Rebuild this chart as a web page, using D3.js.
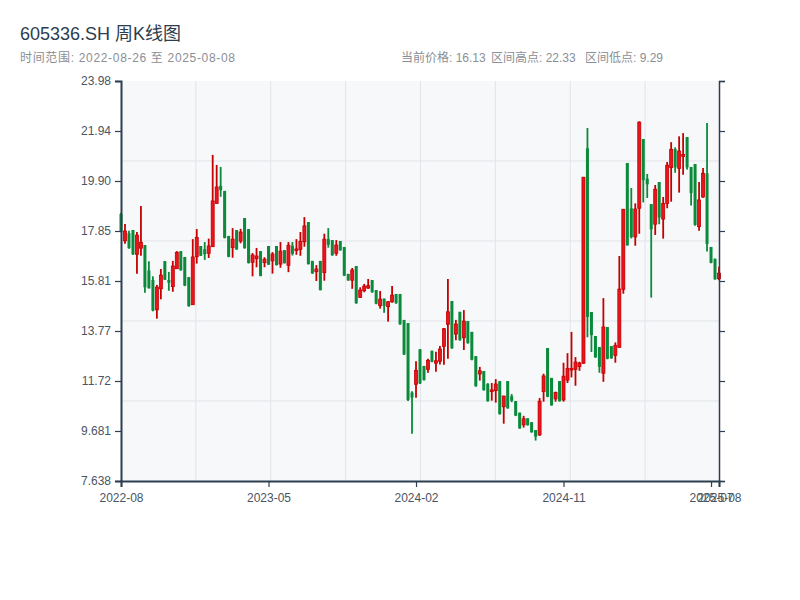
<!DOCTYPE html>
<html><head><meta charset="utf-8">
<script src="https://cdn.jsdelivr.net/npm/d3@7"></script>
<style>
body{margin:0;background:#fff;}
text{font-family:"Liberation Sans","Noto Sans CJK SC",sans-serif;}
</style>
</head><body>
<svg id="chart" width="800" height="600"></svg>
<script>
const dates = [
"2022-08-26","2022-09-02","2022-09-09","2022-09-16","2022-09-23","2022-09-30","2022-10-14","2022-10-21","2022-10-28",
"2022-11-04","2022-11-11","2022-11-18","2022-11-25","2022-12-02","2022-12-09","2022-12-16","2022-12-23","2022-12-30",
"2023-01-06","2023-01-13","2023-01-20","2023-02-03","2023-02-10","2023-02-17","2023-02-24",
"2023-03-03","2023-03-10","2023-03-17","2023-03-24","2023-03-31","2023-04-07","2023-04-14","2023-04-21","2023-04-28",
"2023-05-05","2023-05-12","2023-05-19","2023-05-26","2023-06-02","2023-06-09","2023-06-16","2023-06-23","2023-06-30",
"2023-07-07","2023-07-14","2023-07-21","2023-07-28","2023-08-04","2023-08-11","2023-08-18","2023-08-25",
"2023-09-01","2023-09-08","2023-09-15","2023-09-22","2023-09-29","2023-10-13","2023-10-20","2023-10-27",
"2023-11-03","2023-11-10","2023-11-17","2023-11-24","2023-12-01","2023-12-08","2023-12-15","2023-12-22","2023-12-29",
"2024-01-05","2024-01-12","2024-01-19","2024-01-26","2024-02-02","2024-02-09","2024-02-23",
"2024-03-01","2024-03-08","2024-03-15","2024-03-22","2024-03-29","2024-04-05","2024-04-12","2024-04-19","2024-04-26",
"2024-05-03","2024-05-10","2024-05-17","2024-05-24","2024-05-31","2024-06-07","2024-06-14","2024-06-21","2024-06-28",
"2024-07-05","2024-07-12","2024-07-19","2024-07-26","2024-08-02","2024-08-09","2024-08-16","2024-08-23","2024-08-30",
"2024-09-06","2024-09-13","2024-09-20","2024-09-27","2024-10-04","2024-10-11","2024-10-18","2024-10-25",
"2024-11-01","2024-11-08","2024-11-15","2024-11-22","2024-11-29","2024-12-06","2024-12-13","2024-12-20","2024-12-27",
"2025-01-03","2025-01-10","2025-01-17","2025-01-24","2025-01-31","2025-02-07","2025-02-14","2025-02-21","2025-02-28",
"2025-03-07","2025-03-14","2025-03-21","2025-03-28","2025-04-04","2025-04-11","2025-04-18","2025-04-25",
"2025-05-02","2025-05-09","2025-05-16","2025-05-23","2025-05-30","2025-06-06","2025-06-13","2025-06-20","2025-06-27",
"2025-07-04","2025-07-11","2025-07-18","2025-07-25","2025-08-01","2025-08-08"
];
const openP = [
18.55,17.45,17.76,17.89,16.90,17.15,17.28,16.24,15.85,14.63,15.49,16.62,15.85,15.58,16.31,17.03,16.79,15.97,14.84,16.80,
17.24,17.11,16.94,17.21,18.98,19.70,19.49,17.65,17.17,17.89,17.44,18.38,17.93,16.57,16.72,17.03,16.56,17.24,16.63,17.24,
16.50,17.07,16.45,17.25,17.05,17.10,17.41,18.22,16.63,16.19,16.63,16.15,17.52,17.48,16.94,17.44,17.20,16.10,15.84,16.42,
15.14,15.41,15.52,15.85,15.44,14.80,15.09,14.76,14.96,15.28,15.28,14.22,14.09,11.25,11.59,13.02,12.34,12.20,12.96,12.45,
12.53,13.14,14.04,14.99,13.64,14.55,13.49,14.17,13.73,12.74,12.01,12.13,11.60,11.29,11.33,11.72,10.67,11.72,11.10,10.90,
10.43,9.93,10.20,10.04,9.72,9.52,11.29,13.07,11.85,10.99,11.72,10.95,11.76,12.17,12.20,12.31,12.45,21.23,14.54,13.56,
13.11,12.04,13.93,13.15,12.77,13.10,15.47,20.63,18.78,17.61,18.78,21.61,19.99,18.95,18.13,19.85,18.34,18.98,20.44,21.20,
20.41,20.90,21.69,20.47,20.59,18.03,19.24,20.21,17.20,16.72,15.90
];
const highP = [
18.60,18.14,17.86,17.89,17.81,18.87,17.28,16.62,16.00,15.65,16.30,16.62,16.18,16.63,17.03,17.03,16.79,15.97,17.52,17.93,
17.24,17.40,17.54,20.96,20.55,20.47,19.49,17.65,17.97,17.89,17.94,18.38,17.93,16.95,17.16,17.03,16.78,17.24,16.99,17.24,
17.40,17.07,17.40,17.40,17.52,17.81,18.42,18.22,16.63,16.46,16.63,17.74,17.97,17.48,17.48,17.44,17.20,16.10,16.34,16.42,
15.55,15.69,15.89,15.85,15.44,15.40,15.09,14.99,15.60,15.28,15.28,14.22,14.09,11.30,12.53,13.03,12.34,12.63,12.96,12.92,
13.15,13.89,15.89,14.99,14.22,14.55,14.62,14.17,13.73,12.74,12.30,12.13,11.64,11.64,11.80,11.72,11.12,11.72,11.19,10.90,
10.43,10.30,10.20,10.04,9.72,11.03,12.02,13.07,11.85,11.29,11.72,12.47,12.86,13.73,12.70,12.51,20.06,22.06,14.54,13.56,
13.11,15.11,13.93,13.15,13.30,16.83,18.75,20.63,19.61,18.98,22.33,21.61,20.18,18.95,19.73,19.85,19.24,20.67,21.48,21.27,
21.72,21.85,21.69,20.47,20.59,19.85,20.43,22.26,17.20,16.72,16.39
];
const lowP = [
17.80,17.33,17.13,16.87,16.11,16.84,15.33,15.50,14.57,14.27,15.06,15.85,15.41,15.37,16.31,16.23,15.60,14.76,14.84,16.52,
16.83,16.67,16.75,17.20,18.98,19.25,17.55,16.78,16.76,17.08,17.35,17.13,16.52,16.00,16.37,16.00,16.37,16.46,16.11,16.44,
16.35,16.52,16.17,16.85,16.88,16.84,17.21,16.48,16.10,15.81,15.42,15.82,17.17,16.84,16.84,17.05,16.01,15.82,15.49,14.88,
15.12,15.35,15.49,15.33,14.86,14.68,14.51,14.15,14.92,14.88,14.02,12.79,10.91,9.57,11.04,11.60,11.74,12.06,12.49,12.10,
12.40,12.39,12.63,13.04,13.39,13.37,12.99,13.25,12.57,11.49,11.74,11.33,10.88,10.92,10.84,10.35,9.98,10.59,10.86,10.29,
9.77,9.82,9.90,9.61,9.29,9.48,10.88,11.06,10.71,10.88,10.88,10.88,11.64,11.87,11.53,12.14,12.42,13.51,12.91,12.67,
12.06,11.69,12.61,12.63,12.47,13.08,15.29,17.25,17.55,17.25,17.74,19.02,19.20,15.13,17.69,18.13,17.54,18.78,19.05,20.23,
19.42,20.15,20.36,18.89,18.07,17.86,19.21,17.01,16.53,15.86,15.84
];
const closeP = [
17.81,17.85,17.15,16.90,17.68,17.39,15.55,15.51,14.60,15.56,16.05,15.86,15.74,16.42,16.98,16.25,15.62,14.78,16.79,17.59,
16.84,16.90,17.24,19.08,19.65,19.52,17.57,16.80,17.52,17.10,17.81,17.15,16.55,16.87,16.83,16.02,16.70,16.48,16.91,16.46,
17.03,16.54,17.27,16.92,17.12,17.43,18.06,16.50,16.12,16.30,15.44,17.52,17.29,16.86,17.28,17.06,16.03,15.83,16.26,14.90,
15.44,15.60,15.62,15.35,14.88,15.07,14.79,14.96,15.23,14.90,14.04,12.81,10.95,11.05,12.16,11.62,11.76,12.57,12.51,12.55,
13.03,13.86,14.55,13.06,14.05,13.39,14.17,13.27,12.59,11.51,12.14,11.35,10.90,11.36,11.60,10.37,11.11,10.61,10.92,10.31,
9.79,10.18,9.92,9.63,9.45,10.90,11.93,11.08,10.73,11.25,10.90,11.92,12.24,12.24,12.50,12.46,20.05,14.34,13.60,12.69,
12.30,13.93,12.63,12.65,13.18,15.48,18.74,17.27,17.60,18.75,22.30,19.93,19.76,17.92,19.56,18.40,18.98,20.54,21.19,20.45,
21.12,20.98,20.45,19.40,18.10,19.12,20.21,17.32,16.55,15.88,16.13
];
const yTickLabels = ["7.638","9.681","11.72","13.77","15.81","17.85","19.90","21.94","23.98"];
const yDomain = [7.638, 23.98];
const titleText = "605336.SH 周K线图";
const rangeText = "时间范围: 2022-08-26 至 2025-08-08";
const statTexts = ["当前价格: 16.13", "区间高点: 22.33", "区间低点: 9.29"];

const svg = d3.select("#chart");
const W = 800, H = 600;
const m = {left:121, right:80, top:81, bottom:119};
const pw = W - m.left - m.right, ph = H - m.top - m.bottom;
const n = dates.length;
const data = dates.map((d,i)=>({d, i, o:openP[i], h:highP[i], l:lowP[i], c:closeP[i]}));

const x = d3.scaleLinear().domain([0, n-1]).range([m.left, m.left+pw - 1]);
const y = d3.scaleLinear().domain(yDomain).range([m.top+ph, m.top]);

svg.append("rect").attr("width",W).attr("height",H).attr("fill","#fff");

// title
svg.append("text").attr("x",20).attr("y",40).attr("font-size",18).attr("fill","#2c3e50").text(titleText);
svg.append("text").attr("x",20).attr("y",62).attr("font-size",12).attr("fill","#8a8f96")
  .attr("textLength",215).attr("lengthAdjust","spacing").text(rangeText);
const statX = [401, 491, 585];
statTexts.forEach((t,k)=>svg.append("text").attr("x",statX[k]).attr("y",62).attr("font-size",12).attr("fill","#8a8f96").text(t));

// plot background + grid
svg.append("rect").attr("x",m.left).attr("y",m.top).attr("width",pw).attr("height",ph).attr("fill","#f6f8fa");
const g = svg.append("g");
d3.range(1,8).forEach(k=>g.append("line").attr("x1",m.left+k*pw/8).attr("x2",m.left+k*pw/8).attr("y1",m.top).attr("y2",m.top+ph).attr("stroke","#e1e4e9").attr("stroke-width",1));
d3.range(1,5).forEach(k=>g.append("line").attr("y1",m.top+k*ph/5).attr("y2",m.top+k*ph/5).attr("x1",m.left).attr("x2",m.left+pw).attr("stroke","#e1e4e9").attr("stroke-width",1));

// candles
const up = "#c40000", upFill = "#e8141e", down = "#0b8a3b";
const cg = svg.append("g");
const cs = cg.selectAll("g").data(data).join("g");
cs.append("line")
  .attr("x1",d=>x(d.i)).attr("x2",d=>x(d.i))
  .attr("y1",d=>y(d.h)).attr("y2",d=>y(d.l))
  .attr("stroke",d=>d.c>=d.o?up:down).attr("stroke-width",1.8);
cs.append("rect")
  .attr("x",d=>x(d.i)-1.5).attr("width",3)
  .attr("y",d=>y(Math.max(d.o,d.c)))
  .attr("height",d=>Math.max(1, Math.abs(y(d.o)-y(d.c))))
  .attr("fill",d=>d.c>=d.o?upFill:down)
  .attr("stroke",d=>d.c>=d.o?up:"none").attr("stroke-width",0.8);

// axes
const yTicks = d3.range(yTickLabels.length).map(k=>yDomain[0]+k*(yDomain[1]-yDomain[0])/(yTickLabels.length-1));
const yAxis = d3.axisLeft(y).tickValues(yTicks).tickFormat((v,k)=>yTickLabels[k]).tickSize(6).tickPadding(4);
const ya = svg.append("g").attr("transform",`translate(${m.left},0)`).call(yAxis);
const yr = svg.append("g").attr("transform",`translate(${m.left+pw-1},0)`).call(d3.axisRight(y).tickValues(yTicks).tickFormat("").tickSize(6));
const xTickIdx = d3.range(0, n, 37).concat([n-1]);
const fmt = d3.timeFormat("%Y-%m"), parse = d3.timeParse("%Y-%m-%d");
const xAxis = d3.axisBottom(x).tickValues(xTickIdx).tickFormat(i=>fmt(parse(dates[i]))).tickSize(6).tickPadding(6);
const xa = svg.append("g").attr("transform",`translate(0,${m.top+ph})`).call(xAxis);

[ya,yr,xa].forEach(a=>{
  a.select(".domain").attr("stroke","#2c3e50").attr("stroke-width",2);
  a.selectAll(".tick line").attr("stroke","#2c3e50").attr("stroke-width",1.2);
  a.selectAll(".tick text").attr("fill","#4a5563").attr("font-size",12).attr("font-family",null);
});
yr.select(".domain").attr("stroke-width",1.5);
</script>
</body></html>
